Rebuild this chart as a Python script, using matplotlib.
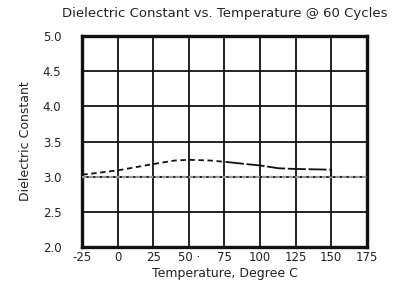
import numpy as np
import matplotlib.pyplot as plt

plt.rcParams['font.family'] = ['DejaVu Sans']
plt.rcParams['font.size'] = 8.5

# Curve: dashed part, then solid part
temp_dashed = [-25, -20, 0, 25, 40, 50, 65, 76]
dk_dashed = [3.03, 3.04, 3.09, 3.18, 3.23, 3.24, 3.23, 3.21]
temp_solid = [76, 90, 100, 113, 125, 150, 150]
dk_solid = [3.21, 3.18, 3.16, 3.12, 3.11, 3.10, 3.0]

# Reference level line at 3.0
ref_temp = [-25, 175]
ref_dk = [3.0, 3.0]

x_ticks = [-25, 0, 25, 50, 75, 100, 125, 150, 175]
x_labels = ['-25', '0', '25', '50 \u00b7', '75', '100', '125', '150', '175']
y_ticks = [2.0, 2.5, 3.0, 3.5, 4.0, 4.5, 5.0]

fig = plt.figure(figsize=(4.03, 2.90), dpi=100)
ax = fig.add_axes([0.204, 0.148, 0.706, 0.728])

ax.set_xlim(-25, 175)
ax.set_ylim(2.0, 5.0)
ax.set_xticks(x_ticks)
ax.set_xticklabels(x_labels)
ax.set_yticks(y_ticks)
ax.set_yticklabels([f'{v:.1f}' for v in y_ticks])
ax.tick_params(length=0, colors='#222222', labelsize=8.5)
ax.tick_params(axis='y', pad=15)
ax.tick_params(axis='x', pad=3)

ax.grid(True, color='#111111', linewidth=1.3)
ax.set_axisbelow(True)
for s in ax.spines.values():
    s.set_linewidth(2.4)
    s.set_color('#111111')

ax.plot(ref_temp, ref_dk, color='#999999', linewidth=1.6, linestyle=(0, (2, 1)), zorder=3)
ax.plot(temp_dashed, dk_dashed, color='#111111', linewidth=1.3, linestyle=(0, (3, 2)), zorder=4)
ax.plot(temp_solid, dk_solid, color='#111111', linewidth=1.3, linestyle=(0, (10, 1.5)), zorder=4)

ax.set_xlabel('Temperature, Degree C', color='#222222', labelpad=2, fontsize=9)
ax.set_ylabel('Dielectric Constant', color='#222222', labelpad=8, fontsize=9)
fig.text(0.558, 0.952, 'Dielectric Constant vs. Temperature @ 60 Cycles',
         ha='center', va='center', color='#222222', fontsize=9.5)

fig.savefig('out.png', dpi=100)
